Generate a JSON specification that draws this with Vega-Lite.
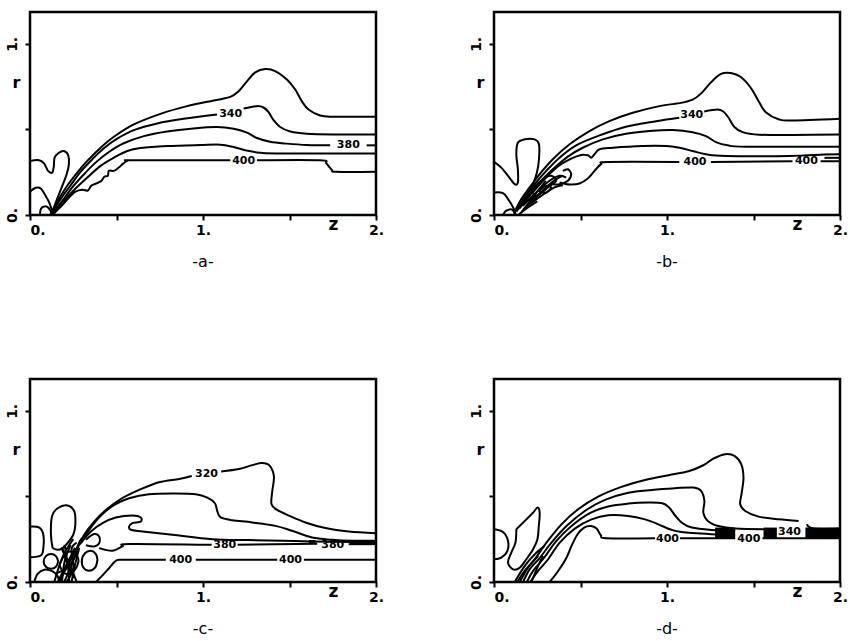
{
"$schema": "https://vega.github.io/schema/vega-lite/v6.json",
"background": "white",
"padding": {"left": 3, "top": 10, "right": 5, "bottom": 5},
"config": {
 "view": {"stroke": "black", "strokeWidth": 2.5},
 "axis": {"grid": false, "domain": false, "tickColor": "black", "tickWidth": 2, "tickSize": 5, "labelColor": "black", "labelFont": "DejaVu Sans", "labelFontWeight": "bold", "labelFontSize": 14, "labelOverlap": false, "titleFont": "DejaVu Sans", "titleFontWeight": "bold", "titleColor": "black"},
 "title": {"font": "DejaVu Sans", "fontSize": 16, "fontWeight": "normal", "color": "black", "orient": "bottom", "offset": 17},
 "line": {"color": "black", "strokeWidth": 2, "interpolate": "cardinal", "clip": true},
 "text": {"font": "DejaVu Sans", "fontWeight": "bold", "fontSize": 11, "baseline": "middle", "align": "center", "color": "black"}
},
"datasets": {
 "A": [
  {"s":"1","i":0,"z":0.119,"r":0.006},{"s":"1","i":1,"z":0.167,"r":0.093},{"s":"1","i":2,"z":0.215,"r":0.171},{"s":"1","i":3,"z":0.273,"r":0.248},{"s":"1","i":4,"z":0.331,"r":0.316},{"s":"1","i":5,"z":0.408,"r":0.393},{"s":"1","i":6,"z":0.485,"r":0.457},{"s":"1","i":7,"z":0.6,"r":0.529},{"s":"1","i":8,"z":0.754,"r":0.591},{"s":"1","i":9,"z":0.908,"r":0.636},{"s":"1","i":10,"z":1.062,"r":0.669},{"s":"1","i":11,"z":1.158,"r":0.69},{"s":"1","i":12,"z":1.206,"r":0.723},{"s":"1","i":13,"z":1.254,"r":0.781},{"s":"1","i":14,"z":1.302,"r":0.833},{"s":"1","i":15,"z":1.36,"r":0.853},{"s":"1","i":16,"z":1.417,"r":0.841},{"s":"1","i":17,"z":1.485,"r":0.791},{"s":"1","i":18,"z":1.533,"r":0.733},{"s":"1","i":19,"z":1.571,"r":0.665},{"s":"1","i":20,"z":1.61,"r":0.616},{"s":"1","i":21,"z":1.677,"r":0.581},{"s":"1","i":22,"z":1.754,"r":0.574},{"s":"1","i":23,"z":2.0,"r":0.574},
  {"s":"2a","i":0,"z":0.119,"r":0.006},{"s":"2a","i":1,"z":0.177,"r":0.093},{"s":"2a","i":2,"z":0.235,"r":0.174},{"s":"2a","i":3,"z":0.292,"r":0.252},{"s":"2a","i":4,"z":0.36,"r":0.326},{"s":"2a","i":5,"z":0.427,"r":0.39},{"s":"2a","i":6,"z":0.504,"r":0.446},{"s":"2a","i":7,"z":0.6,"r":0.496},{"s":"2a","i":8,"z":0.735,"r":0.535},{"s":"2a","i":9,"z":0.888,"r":0.562},{"s":"2a","i":10,"z":1.081,"r":0.587},
  {"s":"2b","i":0,"z":1.235,"r":0.622},{"s":"2b","i":1,"z":1.312,"r":0.636},{"s":"2b","i":2,"z":1.35,"r":0.628},{"s":"2b","i":3,"z":1.379,"r":0.601},{"s":"2b","i":4,"z":1.408,"r":0.554},{"s":"2b","i":5,"z":1.446,"r":0.514},{"s":"2b","i":6,"z":1.504,"r":0.488},{"s":"2b","i":7,"z":1.6,"r":0.475},{"s":"2b","i":8,"z":1.754,"r":0.471},{"s":"2b","i":9,"z":2.0,"r":0.471},
  {"s":"3a","i":0,"z":0.123,"r":0.006},{"s":"3a","i":1,"z":0.187,"r":0.083},{"s":"3a","i":2,"z":0.244,"r":0.161},{"s":"3a","i":3,"z":0.312,"r":0.238},{"s":"3a","i":4,"z":0.379,"r":0.306},{"s":"3a","i":5,"z":0.456,"r":0.368},{"s":"3a","i":6,"z":0.542,"r":0.419},{"s":"3a","i":7,"z":0.658,"r":0.461},{"s":"3a","i":8,"z":0.792,"r":0.488},{"s":"3a","i":9,"z":0.946,"r":0.506},{"s":"3a","i":10,"z":1.081,"r":0.514},{"s":"3a","i":11,"z":1.177,"r":0.504},{"s":"3a","i":12,"z":1.254,"r":0.481},{"s":"3a","i":13,"z":1.312,"r":0.45},{"s":"3a","i":14,"z":1.388,"r":0.428},{"s":"3a","i":15,"z":1.485,"r":0.417},{"s":"3a","i":16,"z":1.6,"r":0.409},{"s":"3a","i":17,"z":1.735,"r":0.407},
  {"s":"3b","i":0,"z":1.946,"r":0.407},{"s":"3b","i":1,"z":2.0,"r":0.407},
  {"s":"4","i":0,"z":0.129,"r":0.006},{"s":"4","i":1,"z":0.196,"r":0.083},{"s":"4","i":2,"z":0.263,"r":0.155},{"s":"4","i":3,"z":0.331,"r":0.219},{"s":"4","i":4,"z":0.408,"r":0.287},{"s":"4","i":5,"z":0.485,"r":0.335},{"s":"4","i":6,"z":0.562,"r":0.374},{"s":"4","i":7,"z":0.638,"r":0.391},{"s":"4","i":8,"z":0.792,"r":0.403},{"s":"4","i":9,"z":0.985,"r":0.409},{"s":"4","i":10,"z":1.1,"r":0.411},{"s":"4","i":11,"z":1.177,"r":0.397},{"s":"4","i":12,"z":1.254,"r":0.376},{"s":"4","i":13,"z":1.331,"r":0.364},{"s":"4","i":14,"z":1.465,"r":0.36},{"s":"4","i":15,"z":2.0,"r":0.36},
  {"s":"5a","i":0,"z":0.135,"r":0.006},{"s":"5a","i":1,"z":0.187,"r":0.058},{"s":"5a","i":2,"z":0.235,"r":0.112},{"s":"5a","i":3,"z":0.263,"r":0.136},{"s":"5a","i":4,"z":0.302,"r":0.147},{"s":"5a","i":5,"z":0.335,"r":0.143},{"s":"5a","i":6,"z":0.354,"r":0.171},{"s":"5a","i":7,"z":0.388,"r":0.186},{"s":"5a","i":8,"z":0.413,"r":0.2},{"s":"5a","i":9,"z":0.431,"r":0.225},{"s":"5a","i":10,"z":0.45,"r":0.229},{"s":"5a","i":11,"z":0.456,"r":0.258},{"s":"5a","i":12,"z":0.485,"r":0.258},{"s":"5a","i":13,"z":0.513,"r":0.277},{"s":"5a","i":14,"z":0.538,"r":0.3},{"s":"5a","i":15,"z":0.565,"r":0.318},{"s":"5a","i":16,"z":0.6,"r":0.32},{"s":"5a","i":17,"z":1.158,"r":0.32},
  {"s":"5b","i":0,"z":1.312,"r":0.32},{"s":"5b","i":1,"z":1.677,"r":0.32},{"s":"5b","i":2,"z":1.712,"r":0.302},{"s":"5b","i":3,"z":1.744,"r":0.264},{"s":"5b","i":4,"z":1.773,"r":0.252},{"s":"5b","i":5,"z":2.0,"r":0.252},
  {"s":"6","i":0,"z":0.0,"r":0.316},{"s":"6","i":1,"z":0.052,"r":0.32},{"s":"6","i":2,"z":0.081,"r":0.302},{"s":"6","i":3,"z":0.104,"r":0.258},{"s":"6","i":4,"z":0.129,"r":0.248},{"s":"6","i":5,"z":0.138,"r":0.287},{"s":"6","i":6,"z":0.142,"r":0.335},{"s":"6","i":7,"z":0.167,"r":0.364},{"s":"6","i":8,"z":0.196,"r":0.374},{"s":"6","i":9,"z":0.221,"r":0.349},{"s":"6","i":10,"z":0.225,"r":0.297},{"s":"6","i":11,"z":0.212,"r":0.238},{"s":"6","i":12,"z":0.187,"r":0.171},{"s":"6","i":13,"z":0.158,"r":0.097},{"s":"6","i":14,"z":0.135,"r":0.035},{"s":"6","i":15,"z":0.123,"r":0.006},
  {"s":"7","i":0,"z":0.0,"r":0.136},{"s":"7","i":1,"z":0.033,"r":0.159},{"s":"7","i":2,"z":0.062,"r":0.155},{"s":"7","i":3,"z":0.09,"r":0.112},{"s":"7","i":4,"z":0.115,"r":0.064},{"s":"7","i":5,"z":0.129,"r":0.016},
  {"s":"8","i":0,"z":0.058,"r":0.0},{"s":"8","i":1,"z":0.065,"r":0.039},{"s":"8","i":2,"z":0.096,"r":0.05},{"s":"8","i":3,"z":0.119,"r":0.025},{"s":"8","i":4,"z":0.123,"r":0.0}
 ],
 "B": [
  {"s":"1","i":0,"z":0.119,"r":0.019},{"s":"1","i":1,"z":0.158,"r":0.093},{"s":"1","i":2,"z":0.206,"r":0.161},{"s":"1","i":3,"z":0.263,"r":0.238},{"s":"1","i":4,"z":0.34,"r":0.326},{"s":"1","i":5,"z":0.437,"r":0.413},{"s":"1","i":6,"z":0.552,"r":0.49},{"s":"1","i":7,"z":0.667,"r":0.548},{"s":"1","i":8,"z":0.802,"r":0.597},{"s":"1","i":9,"z":0.956,"r":0.636},{"s":"1","i":10,"z":1.081,"r":0.655},{"s":"1","i":11,"z":1.148,"r":0.674},{"s":"1","i":12,"z":1.196,"r":0.709},{"s":"1","i":13,"z":1.254,"r":0.775},{"s":"1","i":14,"z":1.312,"r":0.824},{"s":"1","i":15,"z":1.369,"r":0.829},{"s":"1","i":16,"z":1.427,"r":0.806},{"s":"1","i":17,"z":1.485,"r":0.742},{"s":"1","i":18,"z":1.533,"r":0.659},{"s":"1","i":19,"z":1.571,"r":0.601},{"s":"1","i":20,"z":1.648,"r":0.558},{"s":"1","i":21,"z":1.725,"r":0.552},{"s":"1","i":22,"z":2.0,"r":0.562},
  {"s":"2a","i":0,"z":0.129,"r":0.025},{"s":"2a","i":1,"z":0.177,"r":0.103},{"s":"2a","i":2,"z":0.235,"r":0.18},{"s":"2a","i":3,"z":0.302,"r":0.258},{"s":"2a","i":4,"z":0.379,"r":0.335},{"s":"2a","i":5,"z":0.475,"r":0.407},{"s":"2a","i":6,"z":0.61,"r":0.465},{"s":"2a","i":7,"z":0.763,"r":0.516},{"s":"2a","i":8,"z":0.937,"r":0.548},{"s":"2a","i":9,"z":1.071,"r":0.568},
  {"s":"2b","i":0,"z":1.215,"r":0.605},{"s":"2b","i":1,"z":1.292,"r":0.616},{"s":"2b","i":2,"z":1.325,"r":0.605},{"s":"2b","i":3,"z":1.356,"r":0.568},{"s":"2b","i":4,"z":1.388,"r":0.516},{"s":"2b","i":5,"z":1.437,"r":0.484},{"s":"2b","i":6,"z":1.533,"r":0.469},{"s":"2b","i":7,"z":1.725,"r":0.467},{"s":"2b","i":8,"z":2.0,"r":0.471},
  {"s":"3","i":0,"z":0.138,"r":0.031},{"s":"3","i":1,"z":0.196,"r":0.112},{"s":"3","i":2,"z":0.263,"r":0.19},{"s":"3","i":3,"z":0.34,"r":0.267},{"s":"3","i":4,"z":0.427,"r":0.341},{"s":"3","i":5,"z":0.513,"r":0.393},{"s":"3","i":6,"z":0.629,"r":0.442},{"s":"3","i":7,"z":0.763,"r":0.475},{"s":"3","i":8,"z":0.917,"r":0.492},{"s":"3","i":9,"z":1.033,"r":0.496},{"s":"3","i":10,"z":1.148,"r":0.484},{"s":"3","i":11,"z":1.225,"r":0.461},{"s":"3","i":12,"z":1.283,"r":0.426},{"s":"3","i":13,"z":1.35,"r":0.407},{"s":"3","i":14,"z":1.456,"r":0.399},{"s":"3","i":15,"z":2.0,"r":0.399},
  {"s":"4","i":0,"z":0.148,"r":0.039},{"s":"4","i":1,"z":0.215,"r":0.122},{"s":"4","i":2,"z":0.292,"r":0.209},{"s":"4","i":3,"z":0.369,"r":0.283},{"s":"4","i":4,"z":0.446,"r":0.329},{"s":"4","i":5,"z":0.504,"r":0.351},{"s":"4","i":6,"z":0.542,"r":0.349},{"s":"4","i":7,"z":0.562,"r":0.335},{"s":"4","i":8,"z":0.581,"r":0.355},{"s":"4","i":9,"z":0.61,"r":0.384},{"s":"4","i":10,"z":0.687,"r":0.393},{"s":"4","i":11,"z":0.86,"r":0.403},{"s":"4","i":12,"z":0.994,"r":0.403},{"s":"4","i":13,"z":1.071,"r":0.393},{"s":"4","i":14,"z":1.148,"r":0.374},{"s":"4","i":15,"z":1.225,"r":0.355},{"s":"4","i":16,"z":1.34,"r":0.345},{"s":"4","i":17,"z":1.706,"r":0.345},{"s":"4","i":18,"z":1.908,"r":0.353},{"s":"4","i":19,"z":2.0,"r":0.355},
  {"s":"5a","i":0,"z":0.379,"r":0.19},{"s":"5a","i":1,"z":0.437,"r":0.178},{"s":"5a","i":2,"z":0.494,"r":0.184},{"s":"5a","i":3,"z":0.542,"r":0.213},{"s":"5a","i":4,"z":0.581,"r":0.258},{"s":"5a","i":5,"z":0.619,"r":0.297},{"s":"5a","i":6,"z":0.658,"r":0.31},{"s":"5a","i":7,"z":1.071,"r":0.31},
  {"s":"5b","i":0,"z":1.254,"r":0.31},{"s":"5b","i":1,"z":1.725,"r":0.314},
  {"s":"5c","i":0,"z":1.888,"r":0.314},{"s":"5c","i":1,"z":2.0,"r":0.314},
  {"s":"5d","i":0,"z":1.91,"r":0.334},{"s":"5d","i":1,"z":2.0,"r":0.334},
  {"s":"6","i":0,"z":0.0,"r":0.31},{"s":"6","i":1,"z":0.042,"r":0.277},{"s":"6","i":2,"z":0.081,"r":0.229},{"s":"6","i":3,"z":0.119,"r":0.18},{"s":"6","i":4,"z":0.138,"r":0.19},{"s":"6","i":5,"z":0.138,"r":0.267},{"s":"6","i":6,"z":0.129,"r":0.355},{"s":"6","i":7,"z":0.138,"r":0.422},{"s":"6","i":8,"z":0.177,"r":0.442},{"s":"6","i":9,"z":0.235,"r":0.442},{"s":"6","i":10,"z":0.26,"r":0.413},{"s":"6","i":11,"z":0.26,"r":0.326},{"s":"6","i":12,"z":0.248,"r":0.248},{"s":"6","i":13,"z":0.225,"r":0.18},{"s":"6","i":14,"z":0.187,"r":0.112},{"s":"6","i":15,"z":0.158,"r":0.064},{"s":"6","i":16,"z":0.129,"r":0.019},
  {"s":"7","i":0,"z":0.0,"r":0.132},{"s":"7","i":1,"z":0.052,"r":0.128},{"s":"7","i":2,"z":0.081,"r":0.093},{"s":"7","i":3,"z":0.11,"r":0.045},{"s":"7","i":4,"z":0.125,"r":0.006},
  {"s":"8","i":0,"z":0.052,"r":0.0},{"s":"8","i":1,"z":0.071,"r":0.025},{"s":"8","i":2,"z":0.106,"r":0.031},{"s":"8","i":3,"z":0.119,"r":0.006},
  {"s":"9","i":0,"z":0.398,"r":0.258},{"s":"9","i":1,"z":0.427,"r":0.267},{"s":"9","i":2,"z":0.446,"r":0.238},{"s":"9","i":3,"z":0.427,"r":0.2},{"s":"9","i":4,"z":0.379,"r":0.18},{"s":"9","i":5,"z":0.34,"r":0.18},
  {"s":"10","i":0,"z":0.167,"r":0.054},{"s":"10","i":1,"z":0.244,"r":0.132},{"s":"10","i":2,"z":0.321,"r":0.2},{"s":"10","i":3,"z":0.379,"r":0.229},{"s":"10","i":4,"z":0.417,"r":0.219},
  {"s":"11","i":0,"z":0.187,"r":0.05},{"s":"11","i":1,"z":0.273,"r":0.112},{"s":"11","i":2,"z":0.35,"r":0.161},{"s":"11","i":3,"z":0.398,"r":0.174},
  {"s":"12","i":0,"z":0.215,"r":0.151},{"s":"12","i":1,"z":0.283,"r":0.209},{"s":"12","i":2,"z":0.331,"r":0.229},{"s":"12","i":3,"z":0.36,"r":0.2},{"s":"12","i":4,"z":0.312,"r":0.161},{"s":"12","i":5,"z":0.244,"r":0.112},{"s":"12","i":6,"z":0.215,"r":0.151},
  {"s":"13","i":0,"z":0.16,"r":0.02},{"s":"13","i":1,"z":0.2,"r":0.07},{"s":"13","i":2,"z":0.26,"r":0.15},{"s":"13","i":3,"z":0.3,"r":0.2},
  {"s":"14","i":0,"z":0.17,"r":0.03},{"s":"14","i":1,"z":0.23,"r":0.09},{"s":"14","i":2,"z":0.29,"r":0.15},{"s":"14","i":3,"z":0.34,"r":0.19},
  {"s":"15","i":0,"z":0.2,"r":0.08},{"s":"15","i":1,"z":0.26,"r":0.12},{"s":"15","i":2,"z":0.31,"r":0.17},{"s":"15","i":3,"z":0.36,"r":0.21},{"s":"15","i":4,"z":0.4,"r":0.23},
  {"s":"16","i":0,"z":0.14,"r":0.0},{"s":"16","i":1,"z":0.19,"r":0.04},{"s":"16","i":2,"z":0.25,"r":0.08},
  {"s":"17","i":0,"z":0.26,"r":0.14},{"s":"17","i":1,"z":0.3,"r":0.17},{"s":"17","i":2,"z":0.33,"r":0.16},{"s":"17","i":3,"z":0.3,"r":0.13},{"s":"17","i":4,"z":0.26,"r":0.14}
 ],
 "C": [
  {"s":"1a","i":0,"z":0.275,"r":0.198},{"s":"1a","i":1,"z":0.313,"r":0.276},{"s":"1a","i":2,"z":0.371,"r":0.353},{"s":"1a","i":3,"z":0.438,"r":0.421},{"s":"1a","i":4,"z":0.525,"r":0.485},{"s":"1a","i":5,"z":0.631,"r":0.538},{"s":"1a","i":6,"z":0.746,"r":0.583},{"s":"1a","i":7,"z":0.862,"r":0.602},{"s":"1a","i":8,"z":0.935,"r":0.619},
  {"s":"1b","i":0,"z":1.105,"r":0.646},{"s":"1b","i":1,"z":1.208,"r":0.66},{"s":"1b","i":2,"z":1.285,"r":0.683},{"s":"1b","i":3,"z":1.342,"r":0.695},{"s":"1b","i":4,"z":1.385,"r":0.68},{"s":"1b","i":5,"z":1.41,"r":0.616},{"s":"1b","i":6,"z":1.4,"r":0.528},{"s":"1b","i":7,"z":1.396,"r":0.454},{"s":"1b","i":8,"z":1.429,"r":0.421},{"s":"1b","i":9,"z":1.496,"r":0.388},{"s":"1b","i":10,"z":1.592,"r":0.348},{"s":"1b","i":11,"z":1.708,"r":0.315},{"s":"1b","i":12,"z":1.842,"r":0.295},{"s":"1b","i":13,"z":2.0,"r":0.285},
  {"s":"2","i":0,"z":0.285,"r":0.217},{"s":"2","i":1,"z":0.342,"r":0.305},{"s":"2","i":2,"z":0.41,"r":0.388},{"s":"2","i":3,"z":0.487,"r":0.45},{"s":"2","i":4,"z":0.573,"r":0.489},{"s":"2","i":5,"z":0.688,"r":0.513},{"s":"2","i":6,"z":0.842,"r":0.517},{"s":"2","i":7,"z":0.958,"r":0.513},{"s":"2","i":8,"z":1.025,"r":0.493},{"s":"2","i":9,"z":1.069,"r":0.46},{"s":"2","i":10,"z":1.083,"r":0.412},{"s":"2","i":11,"z":1.102,"r":0.377},{"s":"2","i":12,"z":1.169,"r":0.361},{"s":"2","i":13,"z":1.285,"r":0.348},{"s":"2","i":14,"z":1.419,"r":0.328},{"s":"2","i":15,"z":1.515,"r":0.299},{"s":"2","i":16,"z":1.631,"r":0.26},{"s":"2","i":17,"z":1.746,"r":0.247},{"s":"2","i":18,"z":1.862,"r":0.241},{"s":"2","i":19,"z":2.0,"r":0.241},
  {"s":"3","i":0,"z":0.294,"r":0.227},{"s":"3","i":1,"z":0.352,"r":0.295},{"s":"3","i":2,"z":0.419,"r":0.344},{"s":"3","i":3,"z":0.496,"r":0.377},{"s":"3","i":4,"z":0.592,"r":0.388},{"s":"3","i":5,"z":0.64,"r":0.377},{"s":"3","i":6,"z":0.64,"r":0.353},{"s":"3","i":7,"z":0.592,"r":0.344},{"s":"3","i":8,"z":0.573,"r":0.324},{"s":"3","i":9,"z":0.583,"r":0.305},{"s":"3","i":10,"z":0.65,"r":0.295},{"s":"3","i":11,"z":0.823,"r":0.276},{"s":"3","i":12,"z":1.054,"r":0.25},{"s":"3","i":13,"z":1.265,"r":0.245},{"s":"3","i":14,"z":1.458,"r":0.241},{"s":"3","i":15,"z":1.631,"r":0.237},{"s":"3","i":16,"z":1.862,"r":0.233},{"s":"3","i":17,"z":2.0,"r":0.233},
  {"s":"4a","i":0,"z":0.4,"r":0.198},{"s":"4a","i":1,"z":0.477,"r":0.183},{"s":"4a","i":2,"z":0.535,"r":0.208},{"s":"4a","i":3,"z":0.573,"r":0.222},{"s":"4a","i":4,"z":1.05,"r":0.217},
  {"s":"4b","i":0,"z":1.2,"r":0.217},{"s":"4b","i":1,"z":1.66,"r":0.224},
  {"s":"4c","i":0,"z":1.842,"r":0.221},{"s":"4c","i":1,"z":2.0,"r":0.221},
  {"s":"6a","i":0,"z":0.381,"r":0.0},{"s":"6a","i":1,"z":0.419,"r":0.039},{"s":"6a","i":2,"z":0.458,"r":0.082},{"s":"6a","i":3,"z":0.496,"r":0.124},{"s":"6a","i":4,"z":0.544,"r":0.13},{"s":"6a","i":5,"z":0.785,"r":0.13},
  {"s":"6b","i":0,"z":0.958,"r":0.13},{"s":"6b","i":1,"z":1.429,"r":0.13},
  {"s":"6c","i":0,"z":1.583,"r":0.13},{"s":"6c","i":1,"z":2.0,"r":0.13},
  {"s":"7","i":0,"z":0.0,"r":0.324},{"s":"7","i":1,"z":0.054,"r":0.318},{"s":"7","i":2,"z":0.077,"r":0.276},{"s":"7","i":3,"z":0.077,"r":0.198},{"s":"7","i":4,"z":0.063,"r":0.155},{"s":"7","i":5,"z":0.0,"r":0.144},
  {"s":"8","i":0,"z":0.131,"r":0.198},{"s":"8","i":1,"z":0.121,"r":0.276},{"s":"8","i":2,"z":0.127,"r":0.383},{"s":"8","i":3,"z":0.16,"r":0.431},{"s":"8","i":4,"z":0.217,"r":0.447},{"s":"8","i":5,"z":0.256,"r":0.412},{"s":"8","i":6,"z":0.262,"r":0.334},{"s":"8","i":7,"z":0.25,"r":0.276},{"s":"8","i":8,"z":0.217,"r":0.227},{"s":"8","i":9,"z":0.188,"r":0.198},{"s":"8","i":10,"z":0.16,"r":0.188},{"s":"8","i":11,"z":0.131,"r":0.198},
  {"s":"9","i":0,"z":0.163,"r":0.12},{"s":"9","i":1,"z":0.15,"r":0.089},{"s":"9","i":2,"z":0.121,"r":0.078},{"s":"9","i":3,"z":0.092,"r":0.089},{"s":"9","i":4,"z":0.079,"r":0.12},{"s":"9","i":5,"z":0.092,"r":0.151},{"s":"9","i":6,"z":0.121,"r":0.163},{"s":"9","i":7,"z":0.15,"r":0.151},{"s":"9","i":8,"z":0.163,"r":0.12},
  {"s":"10","i":0,"z":0.39,"r":0.13},{"s":"10","i":1,"z":0.377,"r":0.085},{"s":"10","i":2,"z":0.342,"r":0.066},{"s":"10","i":3,"z":0.308,"r":0.085},{"s":"10","i":4,"z":0.3,"r":0.13},{"s":"10","i":5,"z":0.319,"r":0.169},{"s":"10","i":6,"z":0.352,"r":0.183},{"s":"10","i":7,"z":0.381,"r":0.163},{"s":"10","i":8,"z":0.39,"r":0.13},
  {"s":"11","i":0,"z":0.025,"r":0.0},{"s":"11","i":1,"z":0.044,"r":0.047},{"s":"11","i":2,"z":0.083,"r":0.072},{"s":"11","i":3,"z":0.131,"r":0.062},{"s":"11","i":4,"z":0.16,"r":0.033},{"s":"11","i":5,"z":0.169,"r":0.0},
  {"s":"12","i":0,"z":0.323,"r":0.247},{"s":"12","i":1,"z":0.371,"r":0.28},{"s":"12","i":2,"z":0.4,"r":0.266},{"s":"12","i":3,"z":0.4,"r":0.227},{"s":"12","i":4,"z":0.371,"r":0.208},{"s":"12","i":5,"z":0.323,"r":0.215},
  {"s":"13","i":0,"z":0.169,"r":0.0},{"s":"13","i":1,"z":0.23,"r":0.12},{"s":"13","i":2,"z":0.3,"r":0.257},
  {"s":"14","i":0,"z":0.198,"r":0.0},{"s":"14","i":1,"z":0.24,"r":0.1},{"s":"14","i":2,"z":0.29,"r":0.245},
  {"s":"15","i":0,"z":0.227,"r":0.0},{"s":"15","i":1,"z":0.218,"r":0.1},{"s":"15","i":2,"z":0.2,"r":0.217},
  {"s":"16","i":0,"z":0.256,"r":0.023},{"s":"16","i":1,"z":0.21,"r":0.12},{"s":"16","i":2,"z":0.188,"r":0.198},
  {"s":"17","i":0,"z":0.15,"r":0.05},{"s":"17","i":1,"z":0.22,"r":0.09},{"s":"17","i":2,"z":0.28,"r":0.18},
  {"s":"18","i":0,"z":0.18,"r":0.2},{"s":"18","i":1,"z":0.23,"r":0.1},{"s":"18","i":2,"z":0.27,"r":0.0},
  {"s":"19","i":0,"z":0.14,"r":0.0},{"s":"19","i":1,"z":0.19,"r":0.15},{"s":"19","i":2,"z":0.25,"r":0.25},
  {"s":"20","i":0,"z":0.16,"r":0.0},{"s":"20","i":1,"z":0.2,"r":0.08},{"s":"20","i":2,"z":0.26,"r":0.2},
  {"s":"21","i":0,"z":0.21,"r":0.0},{"s":"21","i":1,"z":0.25,"r":0.08},{"s":"21","i":2,"z":0.24,"r":0.19},{"s":"21","i":3,"z":0.27,"r":0.23},
  {"s":"22","i":0,"z":0.17,"r":0.1},{"s":"22","i":1,"z":0.2,"r":0.05},{"s":"22","i":2,"z":0.25,"r":0.06},{"s":"22","i":3,"z":0.28,"r":0.12},{"s":"22","i":4,"z":0.26,"r":0.17},{"s":"22","i":5,"z":0.21,"r":0.17},{"s":"22","i":6,"z":0.17,"r":0.1},
  {"s":"23","i":0,"z":0.185,"r":0.0},{"s":"23","i":1,"z":0.2,"r":0.12},{"s":"23","i":2,"z":0.235,"r":0.215},
  {"s":"24","i":0,"z":0.24,"r":0.0},{"s":"24","i":1,"z":0.26,"r":0.1},{"s":"24","i":2,"z":0.285,"r":0.2}
 ],
 "D": [
  {"s":"1a","i":0,"z":0.135,"r":0.0},{"s":"1a","i":1,"z":0.18,"r":0.07},{"s":"1a","i":2,"z":0.236,"r":0.133},{"s":"1a","i":3,"z":0.303,"r":0.23},{"s":"1a","i":4,"z":0.39,"r":0.337},{"s":"1a","i":5,"z":0.486,"r":0.425},{"s":"1a","i":6,"z":0.602,"r":0.499},{"s":"1a","i":7,"z":0.737,"r":0.556},{"s":"1a","i":8,"z":0.873,"r":0.596},{"s":"1a","i":9,"z":1.008,"r":0.624},{"s":"1a","i":10,"z":1.124,"r":0.647},{"s":"1a","i":11,"z":1.21,"r":0.682},{"s":"1a","i":12,"z":1.268,"r":0.721},{"s":"1a","i":13,"z":1.336,"r":0.747},{"s":"1a","i":14,"z":1.39,"r":0.737},{"s":"1a","i":15,"z":1.429,"r":0.688},{"s":"1a","i":16,"z":1.442,"r":0.61},{"s":"1a","i":17,"z":1.432,"r":0.522},{"s":"1a","i":18,"z":1.423,"r":0.454},{"s":"1a","i":19,"z":1.452,"r":0.415},{"s":"1a","i":20,"z":1.529,"r":0.382},{"s":"1a","i":21,"z":1.645,"r":0.366},{"s":"1a","i":22,"z":1.761,"r":0.357},
  {"s":"1b","i":0,"z":1.809,"r":0.337},{"s":"1b","i":1,"z":1.847,"r":0.312},{"s":"1b","i":2,"z":2.0,"r":0.312},
  {"s":"2","i":0,"z":0.168,"r":0.0},{"s":"2","i":1,"z":0.207,"r":0.075},{"s":"2","i":2,"z":0.264,"r":0.14},{"s":"2","i":3,"z":0.332,"r":0.23},{"s":"2","i":4,"z":0.419,"r":0.327},{"s":"2","i":5,"z":0.525,"r":0.415},{"s":"2","i":6,"z":0.641,"r":0.48},{"s":"2","i":7,"z":0.776,"r":0.522},{"s":"2","i":8,"z":0.911,"r":0.538},{"s":"2","i":9,"z":1.046,"r":0.548},{"s":"2","i":10,"z":1.153,"r":0.552},{"s":"2","i":11,"z":1.197,"r":0.532},{"s":"2","i":12,"z":1.216,"r":0.474},{"s":"2","i":13,"z":1.21,"r":0.405},{"s":"2","i":14,"z":1.236,"r":0.357},{"s":"2","i":15,"z":1.297,"r":0.327},{"s":"2","i":16,"z":1.394,"r":0.312},{"s":"2","i":17,"z":1.568,"r":0.308},
  {"s":"3","i":0,"z":0.19,"r":0.0},{"s":"3","i":1,"z":0.226,"r":0.065},{"s":"3","i":2,"z":0.29,"r":0.142},{"s":"3","i":3,"z":0.361,"r":0.24},{"s":"3","i":4,"z":0.448,"r":0.327},{"s":"3","i":5,"z":0.554,"r":0.402},{"s":"3","i":6,"z":0.66,"r":0.441},{"s":"3","i":7,"z":0.776,"r":0.458},{"s":"3","i":8,"z":0.892,"r":0.464},{"s":"3","i":9,"z":0.973,"r":0.46},{"s":"3","i":10,"z":1.012,"r":0.435},{"s":"3","i":11,"z":1.046,"r":0.39},{"s":"3","i":12,"z":1.085,"r":0.347},{"s":"3","i":13,"z":1.143,"r":0.318},{"s":"3","i":14,"z":1.259,"r":0.304},{"s":"3","i":15,"z":1.394,"r":0.298},
  {"s":"4","i":0,"z":0.21,"r":0.0},{"s":"4","i":1,"z":0.255,"r":0.065},{"s":"4","i":2,"z":0.313,"r":0.133},{"s":"4","i":3,"z":0.38,"r":0.23},{"s":"4","i":4,"z":0.467,"r":0.312},{"s":"4","i":5,"z":0.564,"r":0.366},{"s":"4","i":6,"z":0.66,"r":0.39},{"s":"4","i":7,"z":0.776,"r":0.386},{"s":"4","i":8,"z":0.873,"r":0.366},{"s":"4","i":9,"z":0.95,"r":0.337},{"s":"4","i":10,"z":1.017,"r":0.308},{"s":"4","i":11,"z":1.085,"r":0.292},{"s":"4","i":12,"z":1.259,"r":0.279},{"s":"4","i":13,"z":1.394,"r":0.273},
  {"s":"5a","i":0,"z":0.322,"r":0.0},{"s":"5a","i":1,"z":0.371,"r":0.064},{"s":"5a","i":2,"z":0.419,"r":0.142},{"s":"5a","i":3,"z":0.448,"r":0.211},{"s":"5a","i":4,"z":0.483,"r":0.279},{"s":"5a","i":5,"z":0.521,"r":0.318},{"s":"5a","i":6,"z":0.56,"r":0.327},{"s":"5a","i":7,"z":0.593,"r":0.312},{"s":"5a","i":8,"z":0.618,"r":0.273},{"s":"5a","i":9,"z":0.651,"r":0.255},{"s":"5a","i":10,"z":0.931,"r":0.255},
  {"s":"5b","i":0,"z":1.075,"r":0.255},{"s":"5b","i":1,"z":1.394,"r":0.255},
  {"s":"5c","i":0,"z":1.552,"r":0.255},{"s":"5c","i":1,"z":2.0,"r":0.255},
  {"s":"6","i":0,"z":0.0,"r":0.308},{"s":"6","i":1,"z":0.052,"r":0.292},{"s":"6","i":2,"z":0.081,"r":0.24},{"s":"6","i":3,"z":0.077,"r":0.181},{"s":"6","i":4,"z":0.042,"r":0.142},{"s":"6","i":5,"z":0.0,"r":0.133},
  {"s":"7","i":0,"z":0.129,"r":0.308},{"s":"7","i":1,"z":0.178,"r":0.357},{"s":"7","i":2,"z":0.226,"r":0.405},{"s":"7","i":3,"z":0.251,"r":0.435},{"s":"7","i":4,"z":0.264,"r":0.405},{"s":"7","i":5,"z":0.259,"r":0.327},{"s":"7","i":6,"z":0.251,"r":0.25},{"s":"7","i":7,"z":0.226,"r":0.191},{"s":"7","i":8,"z":0.187,"r":0.133},{"s":"7","i":9,"z":0.149,"r":0.084},{"s":"7","i":10,"z":0.11,"r":0.074},{"s":"7","i":11,"z":0.081,"r":0.113},{"s":"7","i":12,"z":0.1,"r":0.172},{"s":"7","i":13,"z":0.124,"r":0.23},{"s":"7","i":14,"z":0.129,"r":0.308},
  {"s":"8","i":0,"z":0.12,"r":0.0},{"s":"8","i":1,"z":0.178,"r":0.094},{"s":"8","i":2,"z":0.236,"r":0.162},{"s":"8","i":3,"z":0.293,"r":0.211},
  {"s":"9","i":0,"z":0.149,"r":0.0},{"s":"9","i":1,"z":0.197,"r":0.084},{"s":"9","i":2,"z":0.255,"r":0.152},
  {"s":"10","i":0,"z":0.216,"r":0.0},{"s":"10","i":1,"z":0.255,"r":0.094},{"s":"10","i":2,"z":0.284,"r":0.152}
 ],
 "LA": [{"z":1.16,"r":0.593,"t":"340"},{"z":1.84,"r":0.407,"t":"380"},{"z":1.235,"r":0.318,"t":"400"}],
 "LB": [{"z":1.143,"r":0.585,"t":"340"},{"z":1.162,"r":0.31,"t":"400"},{"z":1.806,"r":0.314,"t":"400"}],
 "LC": [{"z":1.02,"r":0.633,"t":"320"},{"z":1.126,"r":0.215,"t":"380"},{"z":1.75,"r":0.218,"t":"380"},{"z":0.871,"r":0.128,"t":"400"},{"z":1.506,"r":0.128,"t":"400"}],
 "LD": [{"z":1.003,"r":0.252,"t":"400"},{"z":1.473,"r":0.252,"t":"400"},{"z":1.708,"r":0.292,"t":"340"}],
 "BC": [{"z":1.852,"z2":2.0,"r":0.218,"r2":0.245},{"z":1.612,"z2":1.65,"r":0.222,"r2":0.245}],
 "BD": [{"z":1.278,"z2":1.394,"r":0.255,"r2":0.318},{"z":1.558,"z2":1.635,"r":0.255,"r2":0.318},{"z":1.8,"z2":2.0,"r":0.255,"r2":0.318}]
},
"bounds": "flush",
"columns": 2,
"spacing": {"row": 164, "column": 118},
"concat": [
  {"width": 346, "height": 203, "title": {"text": "-a-"},
   "layer": [
    {"data": {"name": "A"}, "mark": {"type": "line"},
     "encoding": {
      "x": {"field": "z", "type": "quantitative", "scale": {"domain": [0, 2], "nice": false, "zero": false},
        "axis": {"values": [0, 0.5, 1, 1.5, 2], "labelExpr": "datum.value == 0 ? '0.' : datum.value == 1 ? '1.' : datum.value == 2 ? '2.' : ''", "labelFlush": false, "labelAlign": {"condition": {"test": "datum.value == 0", "value": "left"}, "value": "center"}, "labelPadding": 3, "title": "z", "titleX": 303, "titleY": 9, "titleAlign": "center", "titleBaseline": "middle", "titleFontSize": 17}},
      "y": {"field": "r", "type": "quantitative", "scale": {"domain": [0, 1.186], "nice": false},
        "axis": {"values": [0, 0.5, 1], "labelExpr": "datum.value == 0 ? '0.' : datum.value == 1 ? '1.' : ''", "labelAngle": -90, "labelAlign": "center", "labelBaseline": "bottom", "labelPadding": 6, "title": "r", "titleAngle": 0, "titleX": -14, "titleY": 70, "titleAlign": "center", "titleBaseline": "middle", "titleFontSize": 16}},
      "detail": {"field": "s", "type": "nominal"},
      "order": {"field": "i", "type": "quantitative"}}},
    {"data": {"name": "LA"}, "mark": {"type": "text"},
     "encoding": {"x": {"field": "z", "type": "quantitative"}, "y": {"field": "r", "type": "quantitative"}, "text": {"field": "t"}}}
   ]},
  {"width": 346, "height": 203, "title": {"text": "-b-"},
   "layer": [
    {"data": {"name": "B"}, "mark": {"type": "line"},
     "encoding": {
      "x": {"field": "z", "type": "quantitative", "scale": {"domain": [0, 2], "nice": false, "zero": false},
        "axis": {"values": [0, 0.5, 1, 1.5, 2], "labelExpr": "datum.value == 0 ? '0.' : datum.value == 1 ? '1.' : datum.value == 2 ? '2.' : ''", "labelFlush": false, "labelAlign": {"condition": {"test": "datum.value == 0", "value": "left"}, "value": "center"}, "labelPadding": 3, "title": "z", "titleX": 303, "titleY": 9, "titleAlign": "center", "titleBaseline": "middle", "titleFontSize": 17}},
      "y": {"field": "r", "type": "quantitative", "scale": {"domain": [0, 1.186], "nice": false},
        "axis": {"values": [0, 0.5, 1], "labelExpr": "datum.value == 0 ? '0.' : datum.value == 1 ? '1.' : ''", "labelAngle": -90, "labelAlign": "center", "labelBaseline": "bottom", "labelPadding": 6, "title": "r", "titleAngle": 0, "titleX": -14, "titleY": 70, "titleAlign": "center", "titleBaseline": "middle", "titleFontSize": 16}},
      "detail": {"field": "s", "type": "nominal"},
      "order": {"field": "i", "type": "quantitative"}}},
    {"data": {"name": "LB"}, "mark": {"type": "text"},
     "encoding": {"x": {"field": "z", "type": "quantitative"}, "y": {"field": "r", "type": "quantitative"}, "text": {"field": "t"}}}
   ]},
  {"width": 346, "height": 203, "title": {"text": "-c-"},
   "layer": [
    {"data": {"name": "BC"}, "mark": {"type": "rect", "color": "black"},
     "encoding": {"x": {"field": "z", "type": "quantitative", "scale": {"domain": [0, 2], "nice": false, "zero": false},
        "axis": {"values": [0, 0.5, 1, 1.5, 2], "labelExpr": "datum.value == 0 ? '0.' : datum.value == 1 ? '1.' : datum.value == 2 ? '2.' : ''", "labelFlush": false, "labelAlign": {"condition": {"test": "datum.value == 0", "value": "left"}, "value": "center"}, "labelPadding": 3, "title": "z", "titleX": 303, "titleY": 9, "titleAlign": "center", "titleBaseline": "middle", "titleFontSize": 17}},
      "x2": {"field": "z2"},
      "y": {"field": "r", "type": "quantitative", "scale": {"domain": [0, 1.186], "nice": false},
        "axis": {"values": [0, 0.5, 1], "labelExpr": "datum.value == 0 ? '0.' : datum.value == 1 ? '1.' : ''", "labelAngle": -90, "labelAlign": "center", "labelBaseline": "bottom", "labelPadding": 6, "title": "r", "titleAngle": 0, "titleX": -14, "titleY": 70, "titleAlign": "center", "titleBaseline": "middle", "titleFontSize": 16}},
      "y2": {"field": "r2"}}},
    {"data": {"name": "C"}, "mark": {"type": "line"},
     "encoding": {"x": {"field": "z", "type": "quantitative"}, "y": {"field": "r", "type": "quantitative"},
      "detail": {"field": "s", "type": "nominal"}, "order": {"field": "i", "type": "quantitative"}}},
    {"data": {"name": "LC"}, "mark": {"type": "text"},
     "encoding": {"x": {"field": "z", "type": "quantitative"}, "y": {"field": "r", "type": "quantitative"}, "text": {"field": "t"}}}
   ]},
  {"width": 346, "height": 203, "title": {"text": "-d-"},
   "layer": [
    {"data": {"name": "BD"}, "mark": {"type": "rect", "color": "black"},
     "encoding": {"x": {"field": "z", "type": "quantitative", "scale": {"domain": [0, 2], "nice": false, "zero": false},
        "axis": {"values": [0, 0.5, 1, 1.5, 2], "labelExpr": "datum.value == 0 ? '0.' : datum.value == 1 ? '1.' : datum.value == 2 ? '2.' : ''", "labelFlush": false, "labelAlign": {"condition": {"test": "datum.value == 0", "value": "left"}, "value": "center"}, "labelPadding": 3, "title": "z", "titleX": 303, "titleY": 9, "titleAlign": "center", "titleBaseline": "middle", "titleFontSize": 17}},
      "x2": {"field": "z2"},
      "y": {"field": "r", "type": "quantitative", "scale": {"domain": [0, 1.186], "nice": false},
        "axis": {"values": [0, 0.5, 1], "labelExpr": "datum.value == 0 ? '0.' : datum.value == 1 ? '1.' : ''", "labelAngle": -90, "labelAlign": "center", "labelBaseline": "bottom", "labelPadding": 6, "title": "r", "titleAngle": 0, "titleX": -14, "titleY": 70, "titleAlign": "center", "titleBaseline": "middle", "titleFontSize": 16}},
      "y2": {"field": "r2"}}},
    {"data": {"name": "D"}, "mark": {"type": "line"},
     "encoding": {"x": {"field": "z", "type": "quantitative"}, "y": {"field": "r", "type": "quantitative"},
      "detail": {"field": "s", "type": "nominal"}, "order": {"field": "i", "type": "quantitative"}}},
    {"data": {"name": "LD"}, "mark": {"type": "text"},
     "encoding": {"x": {"field": "z", "type": "quantitative"}, "y": {"field": "r", "type": "quantitative"}, "text": {"field": "t"}}}
   ]}
]
}
